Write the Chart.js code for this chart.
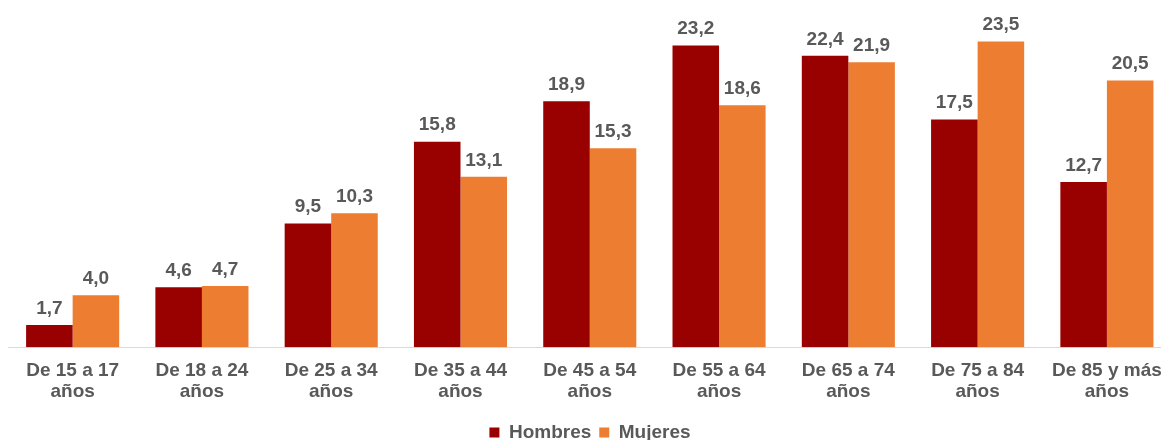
<!DOCTYPE html>
<html>
<head>
<meta charset="utf-8">
<script src="https://cdn.jsdelivr.net/npm/chart.js@4/dist/chart.umd.min.js"></script>
<style>
  html, body { margin: 0; padding: 0; background: #ffffff; overflow: hidden; }
  #wrap { position: relative; width: 1175px; height: 452px; }
</style>
</head>
<body>
<div id="wrap"><canvas id="c"></canvas></div>
<script>
const categories = [
  ['De 15 a 17', 'años'],
  ['De 18 a 24', 'años'],
  ['De 25 a 34', 'años'],
  ['De 35 a 44', 'años'],
  ['De 45 a 54', 'años'],
  ['De 55 a 64', 'años'],
  ['De 65 a 74', 'años'],
  ['De 75 a 84', 'años'],
  ['De 85 y más', 'años']
];
const hombres = [1.7, 4.6, 9.5, 15.8, 18.9, 23.2, 22.4, 17.5, 12.7];
const mujeres = [4.0, 4.7, 10.3, 13.1, 15.3, 18.6, 21.9, 23.5, 20.5];
const seriesNames = ['Hombres', 'Mujeres'];

const FONT = "'Liberation Sans', Arial, sans-serif";
const GRAY = '#595959';

const labelPlugin = {
  id: 'barLabels',
  afterDatasetsDraw(chart) {
    const ctx = chart.ctx;
    ctx.save();
    ctx.font = 'bold 19px ' + FONT;
    ctx.fillStyle = GRAY;
    ctx.textAlign = 'center';
    ctx.textBaseline = 'bottom';
    chart.data.datasets.forEach((ds, i) => {
      const meta = chart.getDatasetMeta(i);
      meta.data.forEach((bar, j) => {
        const v = ds.data[j];
        ctx.fillText(v.toFixed(1).replace('.', ','), bar.x, bar.y - 7);
      });
    });
    ctx.restore();
  }
};

new Chart(document.getElementById('c'), {
  type: 'bar',
  data: {
    labels: categories,
    datasets: [
      { label: seriesNames[0], data: hombres, backgroundColor: '#990000', categoryPercentage: 0.72, barPercentage: 1.0 },
      { label: seriesNames[1], data: mujeres, backgroundColor: '#ED7D31', categoryPercentage: 0.72, barPercentage: 1.0 }
    ]
  },
  options: {
    responsive: true,
    maintainAspectRatio: false,
    animation: false,
    layout: { padding: { top: 22, left: 8, right: 3, bottom: 0 } },
    plugins: {
      legend: {
        position: 'bottom',
        labels: {
          boxWidth: 10,
          boxHeight: 10,
          padding: 8,
          color: GRAY,
          font: { family: FONT, size: 19, weight: 'bold' }
        }
      },
      tooltip: { enabled: false }
    },
    scales: {
      y: { display: false, min: 0, max: 25 },
      x: {
        grid: { display: false, drawTicks: false },
        border: { display: true, color: '#d9d9d9', width: 1 },
        ticks: {
          color: GRAY,
          padding: 13,
          maxRotation: 0,
          autoSkip: false,
          font: { family: FONT, size: 19, weight: 'bold', lineHeight: 1.1 }
        }
      }
    }
  },
  plugins: [labelPlugin]
});
</script>
</body>
</html>
